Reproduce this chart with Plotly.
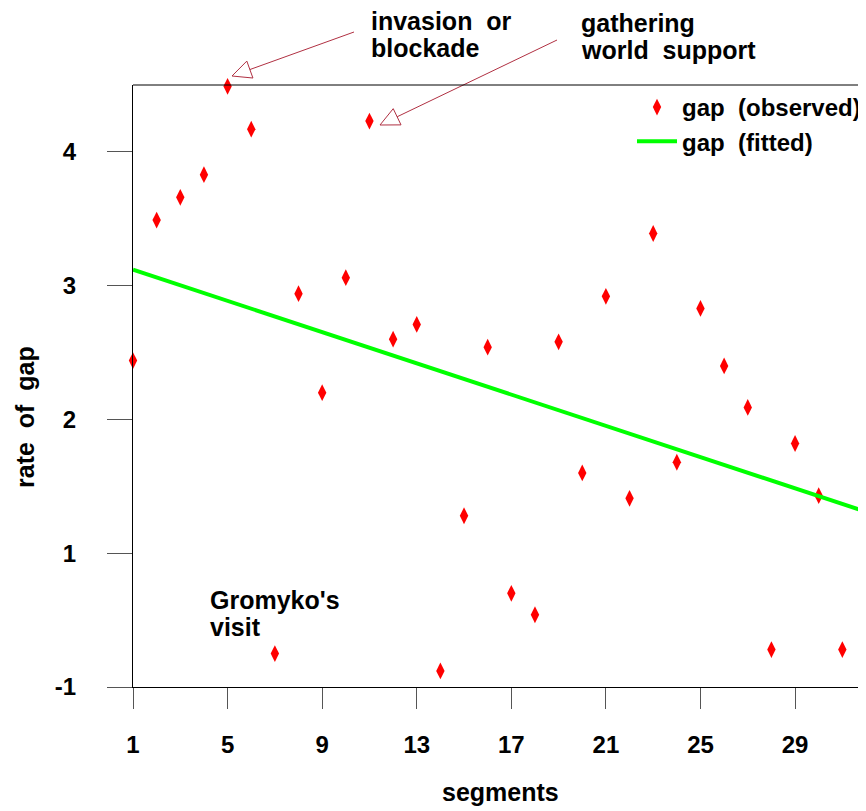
import plotly.graph_objects as go

# ---------------- data ----------------
segments = list(range(1, 33))
gap_observed = [2.44, 3.49, 3.66, 3.83, 4.49, 4.17, 0.25, 2.94, 2.20, 3.06,
                4.23, 2.60, 2.71, 0.12, 1.28, 2.54, 0.70, 0.54, 2.58, 1.60,
                2.92, 1.41, 3.39, 1.68, 2.83, 2.40, 2.09, 0.28, 1.82, 1.43,
                0.28, 1.94]
fit_x = [1, 32]
fit_y = [3.12, 1.31]

x_tickvals = [1, 5, 9, 13, 17, 21, 25, 29]
x_ticktext = ["1", "5", "9", "13", "17", "21", "25", "29"]
y_tickvals = [0, 1, 2, 3, 4]
y_ticktext = ["-1", "1", "2", "3", "4"]

# ---------------- layout geometry ----------------
# the page body has an 8px margin, so the figure is offset by 8px
OFF = 8
W, H = 866 - OFF, 811 - OFF
ML, MR, MT = 133 - OFF, 0, 85 - OFF
MB = H - (687 - OFF)
PW, PH = W - ML - MR, H - MT - MB
FONT = "Liberation Sans, Arial, sans-serif"
ARROW_COL = "#b03042"


def px(x):
    # x given in window pixels
    return (x - OFF - ML) / PW


def py(y):
    return (H - MB - (y - OFF)) / PH


fig = go.Figure()
fig.add_trace(go.Scatter(
    x=segments, y=gap_observed, mode="markers", name="gap  (observed)",
    marker=dict(symbol="diamond-tall", size=12, color="#ff0000"),
    cliponaxis=False,
))
fig.add_trace(go.Scatter(
    x=fit_x, y=fit_y, mode="lines", name="gap  (fitted)",
    line=dict(color="#00ff00", width=4),
))

annotations = []
shapes = []


def text(s, x, y, size=25, angle=0, xanchor="left"):
    annotations.append(dict(
        text=s, x=px(x), y=py(y), xref="paper", yref="paper",
        xanchor=xanchor, yanchor="middle", showarrow=False, textangle=angle,
        font=dict(family=FONT, size=size, color="black", weight="bold"),
    ))


def open_arrow(tail, tip, length=19, half=9):
    tx, ty = tail
    hx, hy = tip
    dx, dy = hx - tx, hy - ty
    n = (dx * dx + dy * dy) ** 0.5
    ux, uy = dx / n, dy / n
    bx, by = hx - length * ux, hy - length * uy
    c1 = (bx - half * uy, by + half * ux)
    c2 = (bx + half * uy, by - half * ux)
    shapes.append(dict(type="line", xref="paper", yref="paper",
                       x0=px(tx), y0=py(ty), x1=px(bx), y1=py(by),
                       line=dict(color=ARROW_COL, width=1)))
    path = "M {} {} L {} {} L {} {} Z".format(
        px(hx), py(hy), px(c1[0]), py(c1[1]), px(c2[0]), py(c2[1]))
    shapes.append(dict(type="path", xref="paper", yref="paper", path=path,
                       line=dict(color=ARROW_COL, width=1),
                       fillcolor="rgba(255,255,255,0)"))


text("invasion  or", 369, 21)
text("blockade", 369, 48)
text("gathering", 579, 23)
text("world  support", 579, 50)
text("Gromyko's", 208, 600)
text("visit", 208, 627)
text("segments", 500, 792, xanchor="center")
text("rate  of  gap", 25, 417, angle=-90, xanchor="center")

open_arrow((354, 32), (232, 76))
open_arrow((557, 40), (380, 125))

# top border line
shapes.append(dict(type="line", xref="paper", yref="paper", x0=0, x1=1, y0=1, y1=1,
                   line=dict(color="black", width=1)))

fig.update_layout(
    width=W, height=H,
    margin=dict(l=ML, r=MR, t=MT, b=MB, autoexpand=False),
    paper_bgcolor="white", plot_bgcolor="white",
    font=dict(family=FONT, size=24, color="black"),
    showlegend=True,
    legend=dict(x=1, xanchor="right", y=1, yanchor="top",
                bgcolor="rgba(0,0,0,0)", borderwidth=0, itemwidth=40,
                font=dict(family=FONT, size=24, color="black", weight="bold"),
                tracegroupgap=0),
    annotations=annotations,
    shapes=shapes,
)
fig.update_xaxes(
    range=[1, 32], tickvals=x_tickvals, ticktext=x_ticktext,
    showgrid=False, zeroline=False, showline=True, linecolor="black", linewidth=1,
    ticks="outside", ticklen=21, tickcolor="#555", tickwidth=1,
    ticklabelstandoff=15,
    tickfont=dict(family=FONT, size=24, color="black", weight="bold"),
)
fig.update_yaxes(
    range=[0, 4.5], tickvals=y_tickvals, ticktext=y_ticktext,
    showgrid=False, zeroline=False, showline=True, linecolor="black", linewidth=1,
    ticks="outside", ticklen=25, tickcolor="#555", tickwidth=1,
    ticklabelstandoff=26,
    tickfont=dict(family=FONT, size=24, color="black", weight="bold"),
)

fig.write_html("out.html")
